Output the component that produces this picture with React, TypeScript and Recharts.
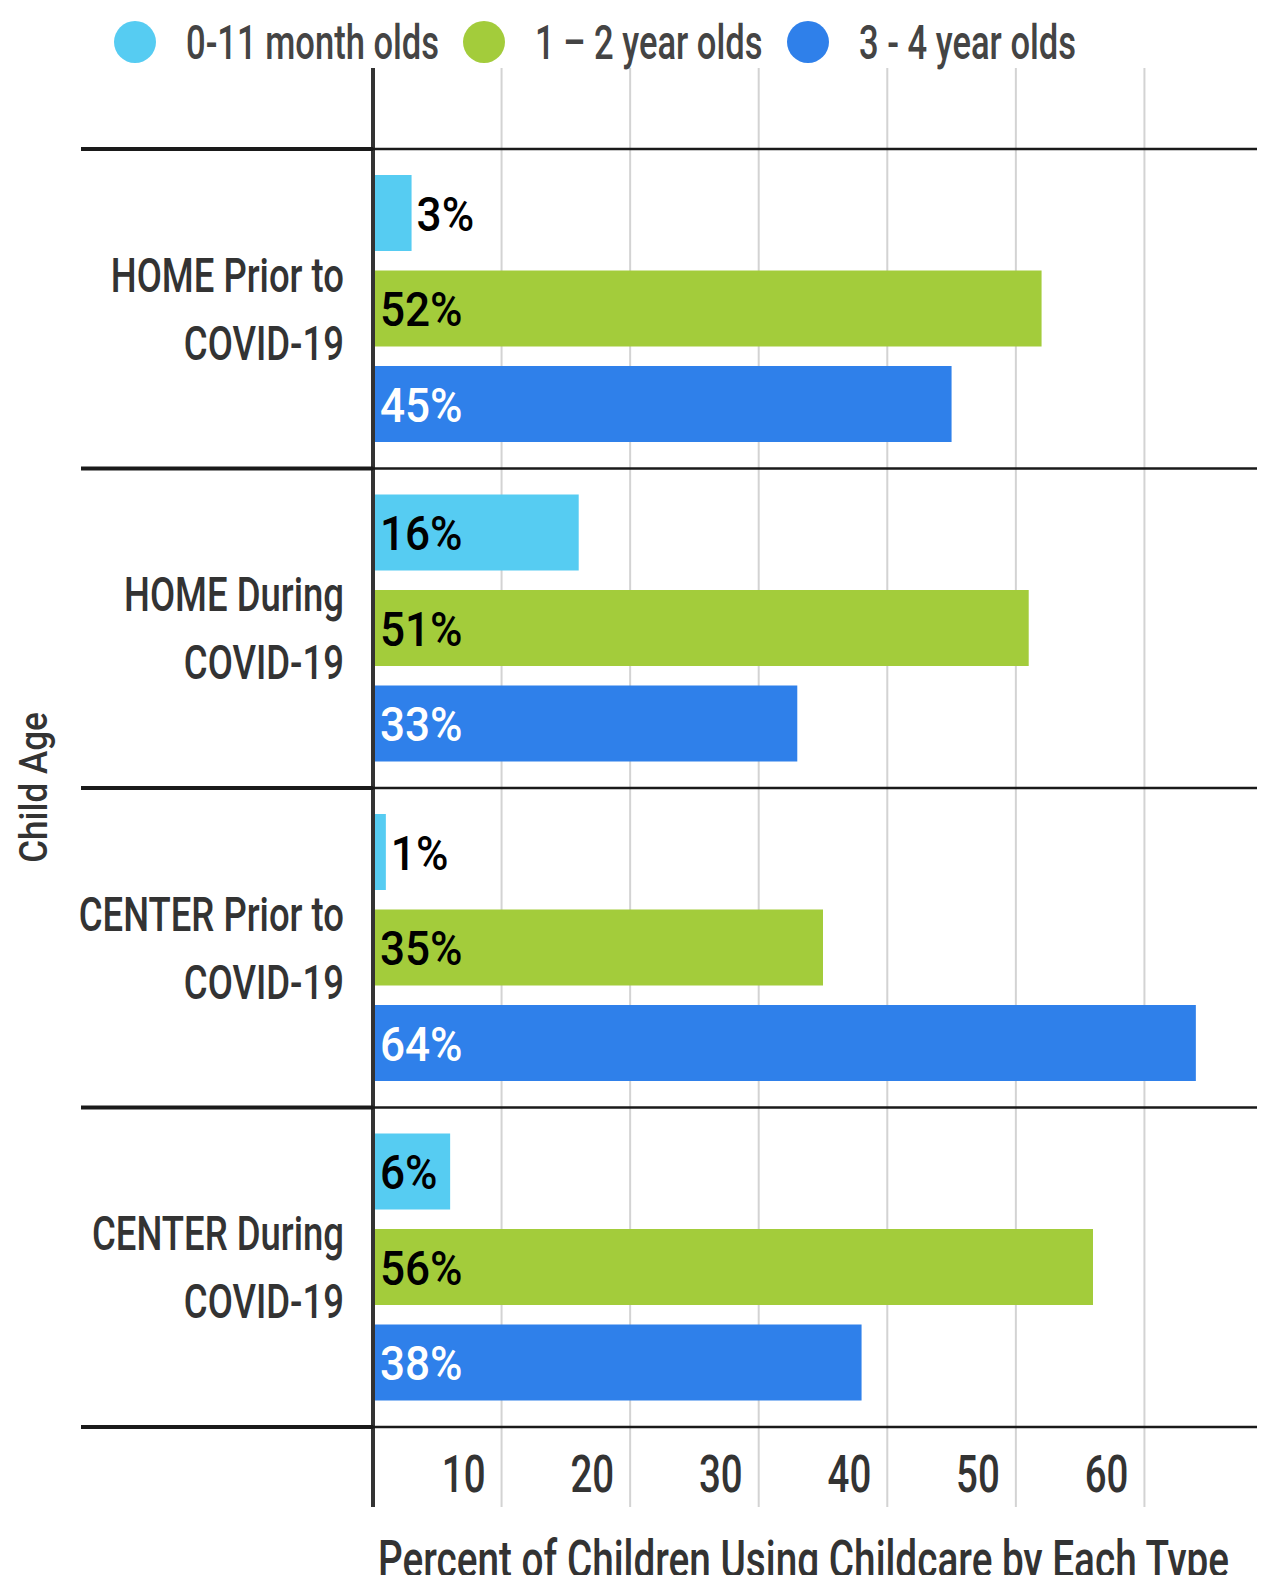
import React from 'react'
import { BarChart, Bar, XAxis, YAxis, CartesianGrid, Legend, LabelList, Label } from 'recharts'

const categories = [
  'HOME Prior to COVID-19',
  'HOME During COVID-19',
  'CENTER Prior to COVID-19',
  'CENTER During COVID-19',
]
const infants = [3, 16, 1, 6]
const toddlers = [52, 51, 35, 56]
const preschoolers = [45, 33, 64, 38]
const xTicks = [10, 20, 30, 40, 50, 60]
const seriesNames = ['0-11 month olds', '1 – 2 year olds', '3 - 4 year olds']
const seriesKeys = ['infants', 'toddlers', 'preschoolers']
const seriesColors = ['#56CCF2', '#A3CC3B', '#2F80EA']
const labelColors = ['#000', '#000', '#fff']

// no condensed face is installed, so squeeze a plain sans horizontally
const FONT = "Roboto, 'Liberation Sans', Arial, sans-serif"
const TEXT = '#333'

const data = categories.map((name, i) => ({
  name,
  infants: infants[i],
  toddlers: toddlers[i],
  preschoolers: preschoolers[i],
}))

function SText({ x, y, sx = 0.72, size, fill = TEXT, anchor = 'start', rotate = 0, weight = 500, children }: any) {
  return (
    <text
      transform={`translate(${x},${y})${rotate ? ` rotate(${rotate})` : ''} scale(${sx},1)`}
      textAnchor={anchor}
      fill={fill}
      fontSize={size}
      fontWeight={weight}
      fontFamily={FONT}
    >
      {children}
    </text>
  )
}

function CategoryTick({ x, y, payload, index, visibleTicksCount }: any) {
  const half = payload?.offset ?? 159.75
  const name: string = payload.value
  const cut = name.lastIndexOf(' ')
  const last = index === (visibleTicksCount ?? categories.length) - 1
  const seps = last ? [y - half, y + half] : [y - half]
  return (
    <g>
      {seps.map((sy, i) => (
        <g key={i}>
          <line x1={81} x2={x} y1={sy} y2={sy} stroke="#1a1a1a" strokeWidth={4} />
          <line x1={x} x2={1400} y1={sy} y2={sy} stroke="#1a1a1a" strokeWidth={2.5} />
        </g>
      ))}
      <SText x={x - 29} y={y - 17} anchor="end" size={49} sx={0.745}>
        {name.slice(0, cut)}
      </SText>
      <SText x={x - 29} y={y + 51} anchor="end" size={49} sx={0.745}>
        {name.slice(cut + 1)}
      </SText>
    </g>
  )
}

function ValueTick({ x, y, payload }: any) {
  return (
    <SText x={x - 16} y={y - 15} anchor="end" size={52} sx={0.74}>
      {payload.value}
    </SText>
  )
}

function YTitle({ viewBox }: any) {
  const cx = viewBox.x + 47
  const cy = viewBox.y + viewBox.height / 2
  return (
    <SText x={cx} y={cy} rotate={-90} anchor="middle" size={39} sx={0.9}>
      Child Age
    </SText>
  )
}

function XTitle({ viewBox }: any) {
  return (
    <SText x={viewBox.x + 5} y={viewBox.y + 70} size={52} sx={0.745}>
      Percent of Children Using Childcare by Each Type
    </SText>
  )
}

const makeBarLabel = (series: number) => (props: any) => {
  const { x, y, width, height, value } = props
  const inside = value >= 5
  return (
    <SText
      x={inside ? x + 7 : x + width + 5}
      y={y + height / 2 + 17.5}
      fill={inside ? labelColors[series] : '#000'}
      size={49}
      sx={0.9}
    >
      {`${value}%`}
    </SText>
  )
}

const legendItemWidths = [349, 324, 320]

function LegendContent() {
  return (
    <div style={{ display: 'flex', alignItems: 'center', height: 84, paddingLeft: 114, fontFamily: FONT }}>
      {seriesNames.map((n, i) => (
        <div key={n} style={{ display: 'flex', alignItems: 'center', width: legendItemWidths[i], flex: 'none' }}>
          <span style={{ width: 42, height: 42, borderRadius: '50%', background: seriesColors[i], display: 'inline-block', flex: 'none' }} />
          <span
            style={{
              marginLeft: 30,
              fontSize: 49,
              fontWeight: 500,
              lineHeight: 1,
              color: '#444',
              whiteSpace: 'nowrap',
              display: 'inline-block',
              transform: 'scaleX(0.705)',
              transformOrigin: 'left center',
            }}
          >
            {n}
          </span>
        </div>
      ))}
    </div>
  )
}

export default function App() {
  return (
    <div style={{ margin: -8, width: 1265, height: 1583, overflow: 'hidden', background: '#fff', position: 'relative' }}>
      <BarChart
        layout="vertical"
        width={1273}
        height={1583}
        data={data}
        margin={{ top: 68, right: 0, bottom: 0, left: 0 }}
        barGap={19.5}
        barSize={76}
      >
        <CartesianGrid horizontal={false} stroke="#d3d3d3" strokeWidth={2} />
        <XAxis
          type="number"
          domain={[0, 70]}
          ticks={xTicks}
          height={76}
          axisLine={false}
          tickLine={false}
          tickSize={0}
          tickMargin={0}
          tick={<ValueTick />}
          label={<Label content={<XTitle />} />}
        />
        <YAxis
          type="category"
          dataKey="name"
          width={373}
          padding={{ top: 81, bottom: 80 }}
          axisLine={{ stroke: '#333', strokeWidth: 4 }}
          tickLine={false}
          tickSize={0}
          tickMargin={0}
          tick={<CategoryTick />}
          interval={0}
          label={<Label content={<YTitle />} />}
        />
        <Legend
          layout="horizontal"
          verticalAlign="middle"
          align="center"
          wrapperStyle={{ top: 0, left: 0, width: 1265 }}
          content={<LegendContent />}
        />
        {seriesKeys.map((k, i) => (
          <Bar key={k} dataKey={k} name={seriesNames[i]} fill={seriesColors[i]} barSize={76} isAnimationActive={false}>
            <LabelList dataKey={k} content={makeBarLabel(i)} />
          </Bar>
        ))}
      </BarChart>
    </div>
  )
}
